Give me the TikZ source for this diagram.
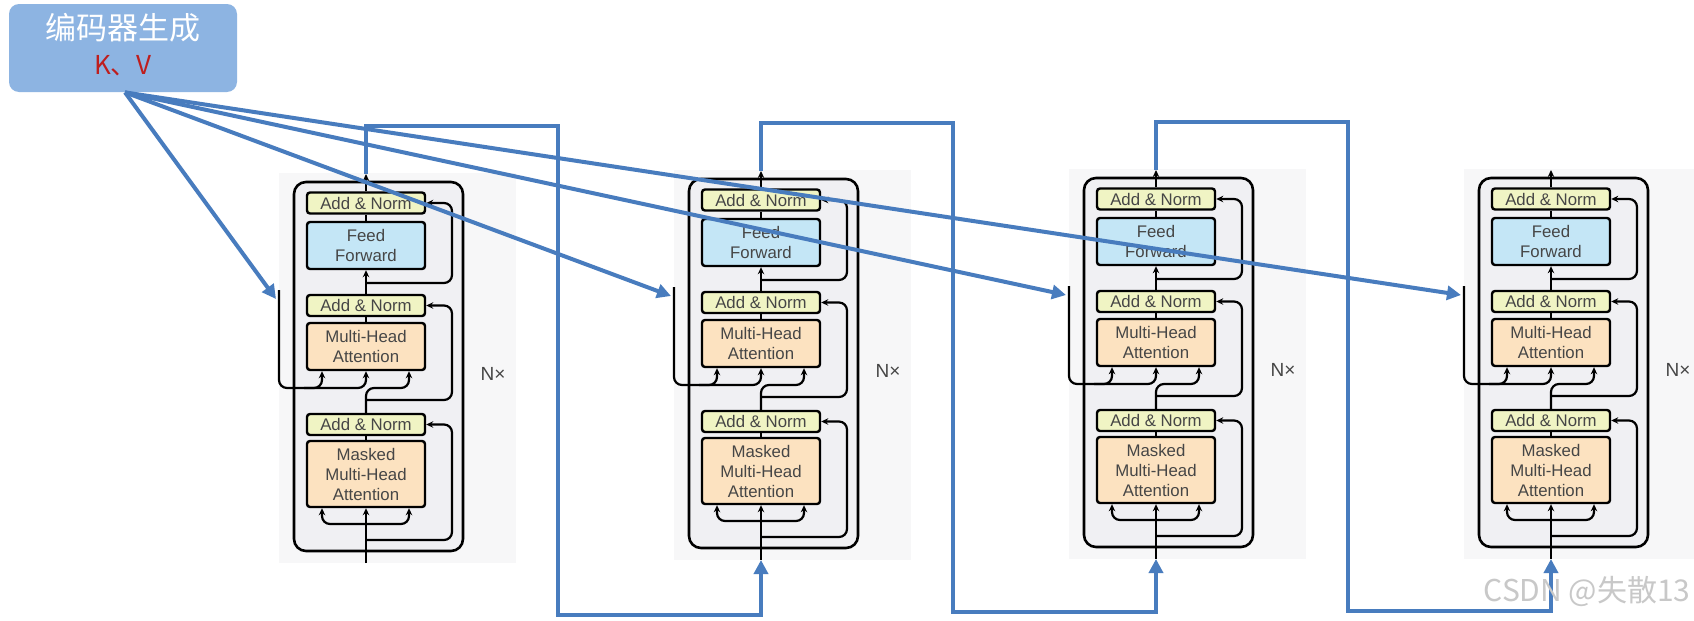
\documentclass[tikz,border=0pt]{standalone}
\usepackage{fontspec}
\setmainfont{Liberation Sans}
\newfontfamily\cjk{Noto Sans CJK SC}
\usetikzlibrary{arrows.meta}
\definecolor{lineblue}{RGB}{72,124,190}
\definecolor{kvfill}{RGB}{141,180,226}
\definecolor{kvred}{RGB}{190,30,30}
\definecolor{anfill}{RGB}{240,244,196}
\definecolor{fffill}{RGB}{196,230,246}
\definecolor{mhafill}{RGB}{252,226,192}
\definecolor{bgray}{RGB}{247,247,248}
\definecolor{ingray}{RGB}{240,240,243}
\definecolor{txt}{RGB}{70,70,70}
\definecolor{wm}{RGB}{200,200,200}
\begin{document}
\begin{tikzpicture}[x=0.5pt,y=-0.5pt,
  blk/.style={draw=black, line width=1.2pt, rounded corners=1.5pt, minimum width=59pt,
    inner sep=0pt, align=center, text=txt, font=\fontsize{8.4}{10}\selectfont},
  anbox/.style={blk, fill=anfill, minimum height=10.5pt},
  ffbox/.style={blk, fill=fffill, minimum height=23.5pt},
  mhabox/.style={blk, fill=mhafill, minimum height=23.5pt},
  mmbox/.style={blk, fill=mhafill, minimum height=33pt},
  wire/.style={draw=black, line width=1.1pt, rounded corners=4pt},
  warr/.style={wire, -{Stealth[length=3.5pt,width=3.2pt]}},
  bline/.style={draw=lineblue, line width=2pt},
  barr/.style={bline, -{Triangle[length=7pt,width=7pt]}},
  nxlab/.style={text=txt, font=\fontsize{9.5}{10}\selectfont, inner sep=0pt},
]
\useasboundingbox (0,0) rectangle (1694,621);
\fill[white] (0,0) rectangle (1694,621);

\foreach \b/\cx/\dy in {1/366/3,2/761/0,3/1156/-1,4/1551/-1}{
 \begin{scope}[shift={(\cx,\dy)}]
  \fill[bgray] (-87,170) rectangle (150,560);
  \draw[line width=1.3pt, fill=ingray, rounded corners=6pt] (-72,179) rectangle (97,548);
  \node[anbox] (an1-\b) at (0,200) {Add \& Norm};
  \node[ffbox] (ff-\b) at (0,242.5) {Feed\\Forward};
  \node[anbox] (an2-\b) at (0,302.5) {Add \& Norm};
  \node[mhabox] (mha-\b) at (0,343.5) {Multi-Head\\Attention};
  \node[anbox] (an3-\b) at (0,421.5) {Add \& Norm};
  \node[mmbox] (mm-\b) at (0,471) {Masked\\Multi-Head\\Attention};
  \node[nxlab] (nx-\b) at (127,371) {N×};
  \coordinate (out-\b) at (0,171);
  \coordinate (in-\b) at (0,560);
  \coordinate (kvt-\b) at (-87,287);
  \coordinate (kvin-\b) at (-90,296);
  \coordinate (rta-\b) at (192,123);
  \coordinate (rtb-\b) at (192,612);
  % straight links
  \draw[warr] (an1-\b.north) -- (out-\b);
  \draw[wire] (ff-\b.north) -- (an1-\b.south);
  \draw[warr] (an2-\b.north) -- (ff-\b.south);
  \draw[wire] (mha-\b.north) -- (an2-\b.south);
  \draw[wire] (mm-\b.north) -- (an3-\b.south);
  \draw[warr] (in-\b) -- (mm-\b.south);
  % masked self-attention split
  \draw[warr] (0,521) -- (-44,521) -- ([xshift=-22pt]mm-\b.south);
  \draw[warr] (0,521) -- (43,521) -- ([xshift=21.5pt]mm-\b.south);
  % residuals
  \draw[warr] (0,537) -- (86,537) -- (86,421.5) -- (an3-\b.east);
  \draw[warr] (0,397) -- (86,397) -- (86,302.5) -- (an2-\b.east);
  \draw[warr] (0,280) -- (86,280) -- (86,200) -- (an1-\b.east);
  % cross attention inputs
  \draw[warr] (kvt-\b) -- (-87,385) -- (0,385) -- (mha-\b.south);
  \draw[warr] (-62,385) -- (-44,385) -- ([xshift=-22pt]mha-\b.south);
  \draw[warr] (an3-\b.north) -- (0,385) -- (43,385) -- ([xshift=21.5pt]mha-\b.south);
 \end{scope}
}

% encoder K,V box
\node[fill=kvfill, rounded corners=5pt, minimum width=114pt, minimum height=44pt, inner sep=0pt] (kv) at (123,48) {};
\node[text=white, font=\cjk\fontsize{15.5}{16}\selectfont, inner sep=0pt] (kvtitle) at (123,28) {编码器生成};
\node[text=kvred, font=\cjk\fontsize{13}{14}\selectfont, inner sep=0pt] (kvsub) at (123,66) {K、V};

% K,V arrows
\foreach \b in {1,2,3,4}{
  \draw[barr] ([xshift=1pt]kv.south) -- (kvin-\b);
}
% block-to-block routes
\draw[barr] (out-1) |- (rta-1) -- (rtb-1) -| (in-2);
\draw[barr] (out-2) |- (rta-2) -- (rtb-2) -| (in-3);
\draw[barr] (out-3) |- (rta-3) -- (rtb-3) -| (in-4);

% watermark
\node[text=wm, font=\cjk\fontsize{15}{16}\selectfont, anchor=east, inner sep=0pt] (wmark) at (1691,591) {CSDN @失散13};
\end{tikzpicture}
\end{document}
